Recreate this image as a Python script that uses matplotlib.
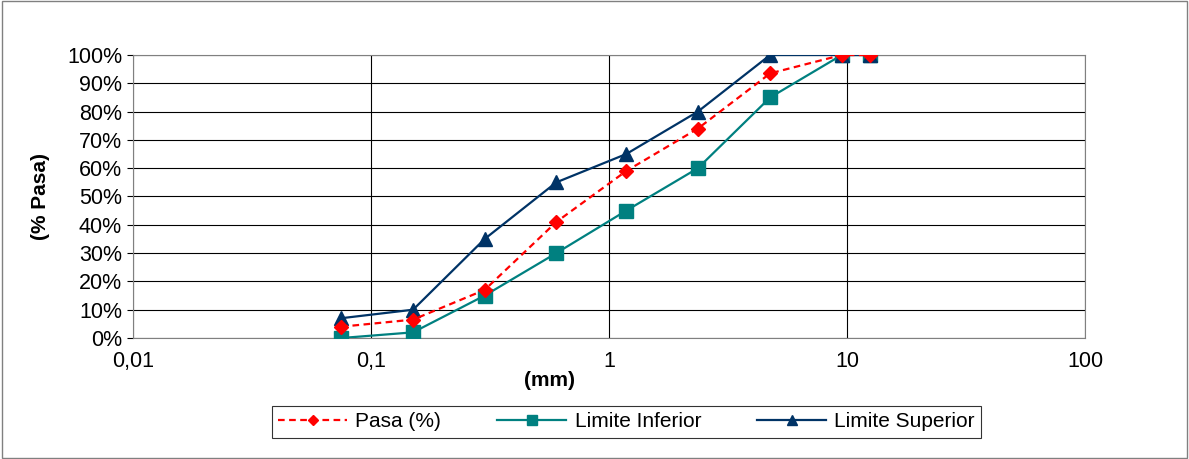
import matplotlib

matplotlib.use("Agg")
import matplotlib.pyplot as plt

plt.rcParams["font.family"] = ["Liberation Sans", "DejaVu Sans"]

# Sieve openings (mm) and passing percentages
sieve_mm = [0.075, 0.15, 0.3, 0.6, 1.18, 2.36, 4.75, 9.5, 12.5]
pasa = [4, 6.5, 17, 41, 59, 74, 93.5, 100, 100]
limite_inferior = [0, 2, 15, 30, 45, 60, 85, 100, 100]
limite_superior = [7, 10, 35, 55, 65, 80, 100, 100, 100]

x_ticks = [0.01, 0.1, 1, 10, 100]
x_tick_labels = ["0,01", "0,1", "1", "10", "100"]
y_ticks = list(range(0, 101, 10))

fig = plt.figure(figsize=(11.89, 4.59), dpi=100)
ax = fig.add_axes([0.112, 0.2636, 0.8006, 0.6166])

ax.plot(sieve_mm, pasa, color="#ff0000", linestyle=(0, (3, 2)), linewidth=1.6,
        marker="D", markersize=7.5, label="Pasa (%)", zorder=4)
ax.plot(sieve_mm, limite_inferior, color="#008080", linewidth=1.6,
        marker="s", markersize=10, label="Limite Inferior", zorder=3)
ax.plot(sieve_mm, limite_superior, color="#003366", linewidth=1.6,
        marker="^", markersize=10, label="Limite Superior", zorder=3)

ax.set_xscale("log")
ax.set_xlim(0.01, 100)
ax.set_ylim(0, 100)
ax.minorticks_off()
ax.set_xticks(x_ticks)
ax.set_xticklabels(x_tick_labels)
ax.set_yticks(y_ticks)
ax.set_yticklabels([f"{v}%" for v in y_ticks])
ax.tick_params(axis="both", labelsize=15.5, length=4, width=0.8, color="black")
ax.tick_params(axis="x", length=0, pad=9)
ax.tick_params(axis="y", pad=4)

ax.grid(True, which="major", color="black", linewidth=0.8)
ax.set_axisbelow(True)
for spine in ax.spines.values():
    spine.set_color("#808080")
    spine.set_linewidth(0.8)

ax.set_xlabel("(mm)", fontsize=15, fontweight="bold")
ax.xaxis.set_label_coords((549 - 133) / 952, -0.115)
ax.set_ylabel("(% Pasa)", fontsize=15, fontweight="bold")
ax.yaxis.set_label_coords(-0.087, 0.5)

leg = fig.legend(loc="center", bbox_to_anchor=(0.527, 0.081), ncol=3, fontsize=15,
                 frameon=True, fancybox=False, edgecolor="black", handlelength=3.3,
                 columnspacing=2.7, borderpad=0.3, handletextpad=0.4, markerscale=0.7)
leg.get_frame().set_linewidth(0.8)

# outer chart border
fig.patches.append(plt.Rectangle((0.002, 0.003), 0.996, 0.994, transform=fig.transFigure,
                                 fill=False, edgecolor="#808080", linewidth=1.0))

fig.savefig("out.png", dpi=100)
